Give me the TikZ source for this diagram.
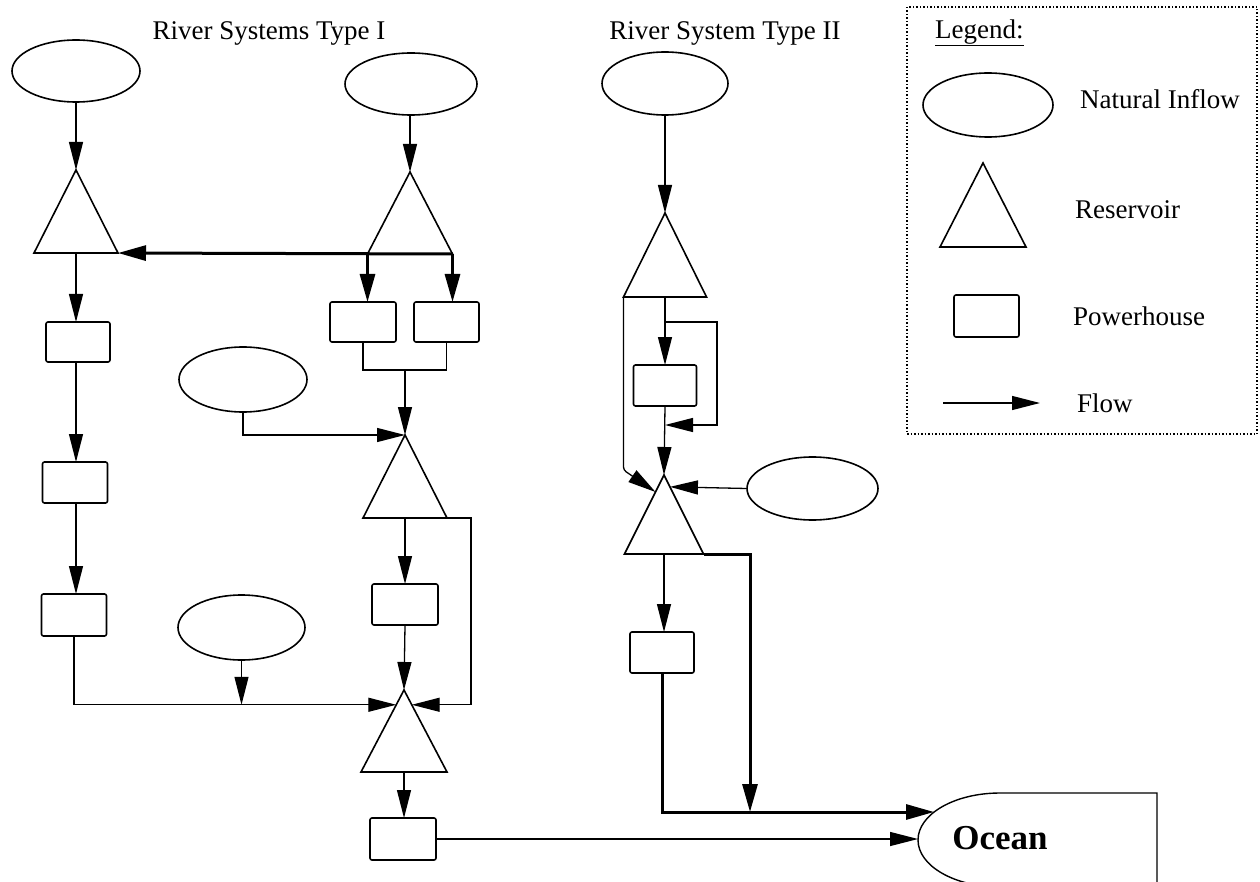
\documentclass[tikz,border=0pt]{standalone}
\usepackage{fontspec}
\setmainfont{Liberation Serif}
\usetikzlibrary{shapes.geometric,arrows.meta,calc}
\newcommand\resvtri[5]{%
  \coordinate (#1) at (#2,#3);
  \coordinate (#1-l) at ({#2-#5},#4);
  \coordinate (#1-r) at ({#2+#5},#4);
  \coordinate (#1-b) at (#2,#4);
  \draw[resv] (#1) -- (#1-l) -- (#1-r) -- cycle;
}
\begin{document}
\begin{tikzpicture}[x=1pt,y=-1pt,
  inflow/.style={draw,ellipse,line width=1.6pt,inner sep=0pt,outer sep=0pt},
  ph/.style={draw,rectangle,rounded corners=2pt,line width=1.6pt,inner sep=0pt,outer sep=0pt},
  resv/.style={line width=1.6pt,line join=miter},
  conn/.style={line width=1.3pt},
  flow/.style={conn,-{Triangle[length=28pt,width=14pt]}},
  thk/.style={line width=3pt},
  thkflow/.style={thk,-{Triangle[length=28pt,width=15pt]}},
  lbl/.style={font=\fontsize{27}{32}\selectfont,inner sep=0pt},
]
\clip (0,0) rectangle (1260,882);
\useasboundingbox (0,0) rectangle (1260,882);

% titles
\node[lbl] (t1) at (269,33) {River Systems Type I};
\node[lbl] (t2) at (725,33) {River System Type II};

% legend
\node[draw,dotted,line width=1.5pt,minimum width=350pt,minimum height=427pt,inner sep=0pt] (legbox) at (1082,220.5) {};
\node[lbl,anchor=west] (legt) at (935,33) {\underline{Legend:}};
\node[inflow,minimum width=130pt,minimum height=64pt] (LE) at (988,105) {};
\node[lbl,anchor=west] (leg1) at (1080,99) {Natural Inflow};
\resvtri{LT}{983}{163}{247}{43}
\node[lbl,anchor=west] (leg2) at (1075,210) {Reservoir};
\node[ph,minimum width=65pt,minimum height=42pt] (LR) at (986.5,316) {};
\node[lbl,anchor=west] (leg3) at (1073,316) {Powerhouse};
\coordinate (LFa) at (943,403);
\coordinate (LFb) at (1040,403);
\draw[flow] (LFa) -- (LFb);
\node[lbl,anchor=west] (leg4) at (1077,403) {Flow};

% ocean
\coordinate (ocTop) at (1000,793);
\draw[line width=1.4pt] (1157,900) -- (1157,793) -- (ocTop) arc[start angle=270,end angle=90,x radius=82,y radius=47];
\node[font=\fontsize{35}{40}\selectfont\bfseries,inner sep=0pt] (oc) at (1000,838) {Ocean};
\coordinate (ocA) at (934,812);
\coordinate (ocB) at (918,839);

% ---------- Type I ----------
\node[inflow,minimum width=128pt,minimum height=62pt] (E1) at (76,71) {};
\resvtri{T1}{76}{170}{253}{42}
\draw[flow] (E1.south) -- (T1);

\node[inflow,minimum width=132pt,minimum height=62pt] (E2) at (411,84) {};
\resvtri{T2}{410}{172}{254}{42.5}
\draw[flow] (E2.south -| T2) -- (T2);
\node[ph,minimum width=66pt,minimum height=40pt] (RA) at (363,322) {};
\node[ph,minimum width=65pt,minimum height=40pt] (RB) at (446.5,322) {};
\draw[thkflow] (T2-r) -- (T1-r);
\draw[thkflow] (T2-l) -- (T2-l |- RA.north);
\draw[thkflow] (T2-r) -- (T2-r |- RB.north);

\coordinate (J1) at (405,370);
\draw[conn] (RA.south) |- (J1) -| (RB.south);
\resvtri{T3}{405}{435}{518}{42}
\draw[flow] (J1) -- (T3);

\node[inflow,minimum width=128pt,minimum height=65pt] (E3) at (243,379.5) {};
\draw[flow] (E3.south) |- (T3);

\node[ph,minimum width=64pt,minimum height=40pt] (R1) at (78,342) {};
\node[ph,minimum width=65pt,minimum height=41pt] (R2) at (75,482.5) {};
\node[ph,minimum width=65pt,minimum height=42pt] (R3) at (74,615) {};
\draw[flow] (T1-b) -- (T1-b |- R1.north);
\draw[flow] (R1.south -| T1-b) -- (T1-b |- R2.north);
\draw[flow] (R2.south -| T1-b) -- (T1-b |- R3.north);

\resvtri{T5}{404}{690}{772}{43}
\coordinate (T5L) at ($(T5)!0.18!(T5-l)$);
\coordinate (T5R) at ($(T5)!0.18!(T5-r)$);
\draw[flow] (R3.south) |- (T5L);
\node[inflow,minimum width=127pt,minimum height=65pt] (E4) at (241.5,627.5) {};
\draw[flow] (E4.south) -- (E4.south |- T5L);
\coordinate (B1) at (471,518);
\draw[flow] (T3-r) -- (B1) |- (T5R);
\node[ph,minimum width=66pt,minimum height=41pt] (R4) at (405,604.5) {};
\draw[flow] (T3-b) -- (T3-b |- R4.north);
\draw[flow] (R4.south) -- (T5);
\node[ph,minimum width=66pt,minimum height=42pt] (R5) at (403,839) {};
\draw[flow] (T5-b) -- (T5-b |- R5.north);
\draw[flow] (R5.east) -- (ocB);

% ---------- Type II ----------
\node[inflow,minimum width=126pt,minimum height=63pt] (E5) at (665,83.5) {};
\resvtri{T6}{665}{213}{297}{41.5}
\draw[flow] (E5.south) -- (T6);
\node[ph,minimum width=63pt,minimum height=41pt] (R6) at (665,385.5) {};
\resvtri{T7}{664}{475}{554}{39.5}
\draw[flow] (T6-b) -- (T6-b |- R6.north);
\coordinate (BPs) at (665,322);
\coordinate (BP1) at (717,322);
\coordinate (BP2) at (717,425);
\draw[flow] (BPs) -- (BP1) -- (BP2) -- (BP2 -| T6-b);
\draw[flow] (R6.south) -- (T7);
\coordinate (T7L) at ($(T7)!0.215!(T7-l)$);
\coordinate (T7R) at ($(T7)!0.15!(T7-r)$);
\coordinate (BL) at (623.5,470);
\draw[flow,rounded corners=3pt] (T6-l) -- (BL) -- (T7L);
\node[inflow,minimum width=131pt,minimum height=63pt] (E6) at (812.5,488.5) {};
\draw[flow] (E6.west) -- (T7R);
\node[ph,minimum width=64pt,minimum height=41pt] (R7) at (662,652.5) {};
\draw[flow] (T7-b) -- (T7-b |- R7.north);
\coordinate (K1) at (750,554);
\draw[thkflow] (T7-r) -- (K1) -- (K1 |- ocA);
\draw[thkflow] (R7.south) |- (ocA);
\end{tikzpicture}
\end{document}
